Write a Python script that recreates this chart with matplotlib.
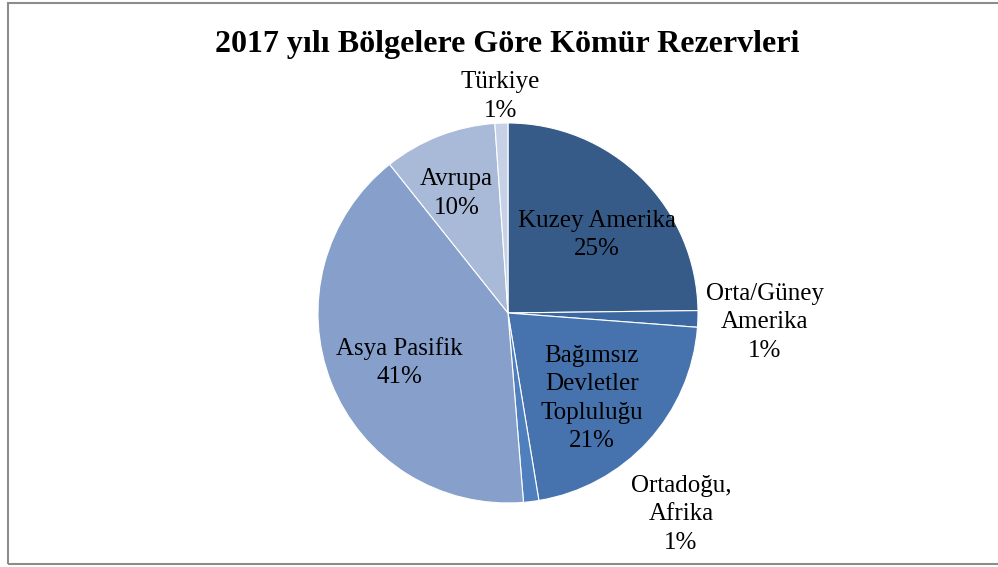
import matplotlib.pyplot as plt
import numpy as np
from matplotlib.patches import Rectangle

plt.rcParams['font.family'] = ['Liberation Serif', 'DejaVu Serif']

# 2017 coal reserves by region (share, %)
regions = ["Kuzey Amerika", "Orta/Güney\nAmerika", "Bağımsız\nDevletler\nTopluluğu",
           "Ortadoğu,\nAfrika", "Asya Pasifik", "Avrupa", "Türkiye"]
shares = [24.8, 1.4, 21.2, 1.3, 40.6, 9.6, 1.1]
colors = ["#375b88", "#3d67a0", "#4673ae", "#4f80bd", "#86a0cb", "#a9b9d8", "#c6d1e6"]

# label centres in pie-radius units (x right, y up)
label_pos = [(0.47, 0.41), (1.35, -0.05), (0.44, -0.45), (0.91, -1.06),
             (-0.57, -0.26), (-0.27, 0.63), (-0.04, 1.14)]

fig = plt.figure(figsize=(9.98, 5.67), dpi=100)
fig.patch.set_facecolor("white")
fig.add_artist(Rectangle((8 / 998, 3 / 567), 1.2, 561 / 567, transform=fig.transFigure,
                         fill=False, edgecolor="#8c8c8c", linewidth=1.5))

ax = fig.add_axes([0.3186, 0.1129, 0.3808, 0.6702])
wedges, _ = ax.pie(shares, colors=colors, startangle=90, counterclock=False,
                   radius=1.0, wedgeprops=dict(edgecolor="white", linewidth=0.8))
ax.set_xlim(-1, 1)
ax.set_ylim(-1, 1)
ax.set_aspect("auto")
ax.axis("off")

for name, val, (x, y) in zip(regions, shares, label_pos):
    ax.text(x, y, name + "\n" + str(int(round(val))) + "%", ha="center", va="center",
            fontsize=18, linespacing=1.38, color="#000000", clip_on=False)

fig.text(0.508, 0.921, "2017 yılı Bölgelere Göre Kömür Rezervleri", ha="center", va="center",
         fontsize=23, fontweight="bold")

fig.savefig("out.png", dpi=100)
